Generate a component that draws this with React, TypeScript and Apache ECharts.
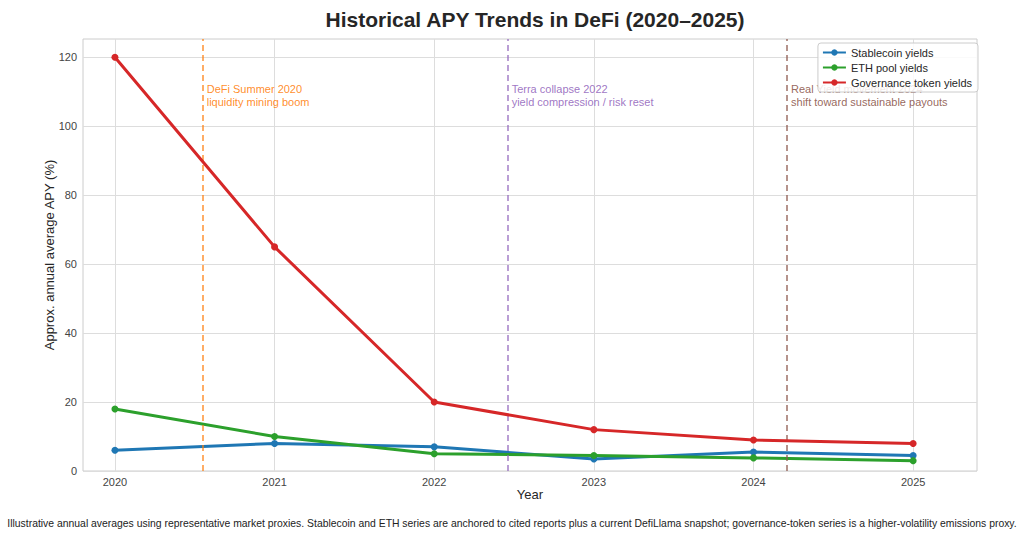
import React, { useEffect, useRef } from "react";
import * as echarts from "echarts";

const years = [2020, 2021, 2022, 2023, 2024, 2025];
const stablecoin = [6, 8, 7, 3.5, 5.5, 4.5];
const ethPool = [18, 10, 5, 4.5, 3.8, 3];
const governance = [120, 65, 20, 12, 9, 8];
const yTicks = [0, 20, 40, 60, 80, 100, 120];

const eventX = [2020.55, 2022.46, 2024.21];
const eventLine1 = ["DeFi Summer 2020", "Terra collapse 2022", "Real Yield movement 2024"];
const eventLine2 = ["liquidity mining boom", "yield compression / risk reset", "shift toward sustainable payouts"];
const eventColors = ["#ff7f0e", "#9467bd", "#8c564b"];

const FONT = "Liberation Sans, Arial, sans-serif";

export default function App() {
  const ref = useRef<HTMLDivElement>(null);
  useEffect(() => {
    const chart = echarts.init(ref.current!, undefined, { renderer: "svg" });
    const mk = (name: string, vals: number[], color: string, z: number) => ({
      name,
      type: "line",
      data: years.map((y, i) => [y, vals[i]]),
      symbol: "circle",
      symbolSize: 7,
      z,
      lineStyle: { width: 3, color },
      itemStyle: { color },
    });
    const series: any[] = [
      mk("Stablecoin yields", stablecoin, "#1f77b4", 3),
      mk("ETH pool yields", ethPool, "#2ca02c", 4),
      mk("Governance token yields", governance, "#d62728", 5),
    ];
    series[0].markLine = {
      silent: true,
      symbol: "none",
      label: { show: false },
      data: eventX.map((x, i) => ({
        xAxis: x,
        lineStyle: { color: eventColors[i], type: [6, 4], width: 1.5, opacity: 0.85 },
      })),
    };
    chart.setOption({
      animation: false,
      backgroundColor: "#ffffff",
      title: {
        text: "Historical APY Trends in DeFi (2020–2025)",
        left: 530,
        textAlign: "center",
        top: 4,
        textStyle: { fontFamily: FONT, fontSize: 21, fontWeight: "bold", color: "#262626" },
      },
      grid: {
        left: 83,
        right: 47,
        top: 39,
        bottom: 67,
        show: true,
        borderColor: "#cccccc",
        borderWidth: 1,
        backgroundColor: "transparent",
      },
      legend: {
        orient: "vertical",
        right: 46,
        top: 43,
        itemWidth: 23,
        itemHeight: 8,
        itemGap: 4,
        padding: [4, 6, 4, 4],
        backgroundColor: "rgba(255,255,255,0.85)",
        borderColor: "#cccccc",
        borderWidth: 1,
        borderRadius: 3,
        textStyle: { fontFamily: FONT, fontSize: 11, color: "#262626" },
        data: ["Stablecoin yields", "ETH pool yields", "Governance token yields"],
      },
      xAxis: {
        type: "value",
        min: 2019.8,
        max: 2025.4,
        name: "Year",
        nameLocation: "middle",
        nameGap: 17,
        nameMoveOverlap: false,
        nameTextStyle: { fontFamily: FONT, fontSize: 13, color: "#262626" },
        axisLine: { show: false },
        axisTick: { show: false, customValues: years },
        axisLabel: {
          customValues: years,
          fontFamily: FONT,
          fontSize: 11,
          color: "#444444",
          margin: 5,
          formatter: (v: number) => String(v),
        },
        splitLine: { show: true, lineStyle: { color: "#dddddd", width: 1 } },
      },
      yAxis: {
        type: "value",
        min: 0,
        max: 125.3,
        name: "Approx. annual average APY (%)",
        nameLocation: "middle",
        nameGap: 27,
        nameMoveOverlap: false,
        nameTextStyle: { fontFamily: FONT, fontSize: 13, color: "#262626" },
        axisLine: { show: false },
        axisTick: { show: false, customValues: yTicks },
        axisLabel: {
          customValues: yTicks,
          fontFamily: FONT,
          fontSize: 11,
          color: "#444444",
          margin: 6,
        },
        splitLine: { show: true, lineStyle: { color: "#dddddd", width: 1 } },
      },
      series,
    });
    const graphics: any[] = eventX.map((x, i) => {
      const p = chart.convertToPixel({ gridIndex: 0 }, [x, 0]);
      return {
        type: "text",
        x: p[0] + 4,
        y: 82,
        z: 1,
        style: {
          text: eventLine1[i] + "\n" + eventLine2[i],
          fill: eventColors[i],
          opacity: 0.9,
          fontFamily: FONT,
          fontSize: 11,
          lineHeight: 13,
        },
      };
    });
    graphics.push({
      type: "text",
      left: "center",
      top: 518,
      style: {
        text:
          "Illustrative annual averages using representative market proxies. Stablecoin and ETH series are anchored to cited reports plus a current DefiLlama snapshot; governance-token series is a higher-volatility emissions proxy.",
        fill: "#222222",
        fontFamily: FONT,
        fontSize: 10.4,
      },
    });
    chart.setOption({ graphic: graphics });
    return () => chart.dispose();
  }, []);
  return <div ref={ref} style={{ width: 1024, height: 538, position: "absolute", left: 0, top: 0 }} />;
}
